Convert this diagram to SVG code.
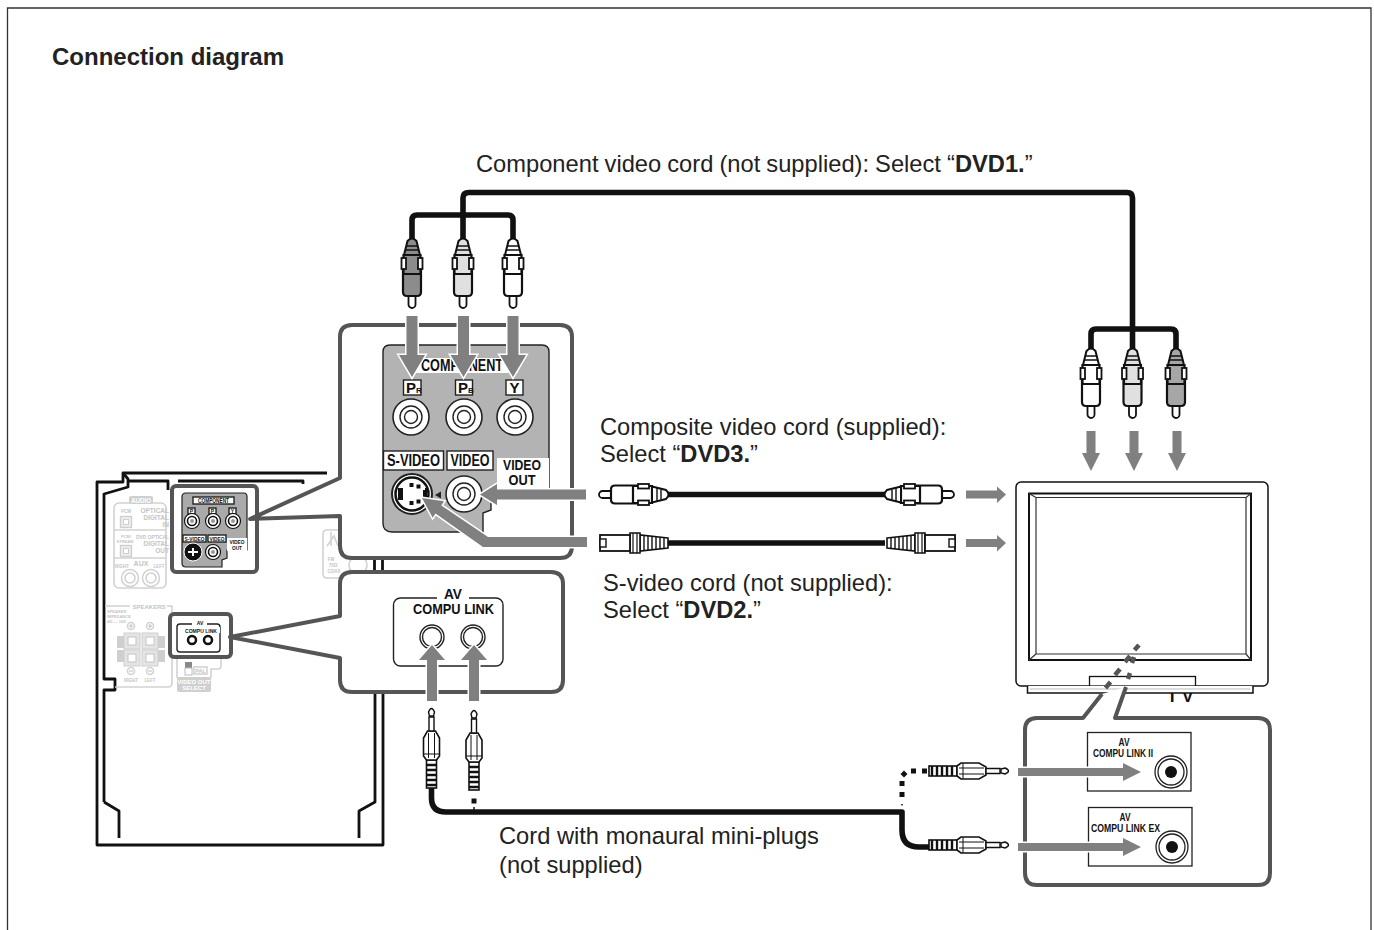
<svg xmlns="http://www.w3.org/2000/svg" xmlns:xlink="http://www.w3.org/1999/xlink" width="1374" height="930" viewBox="0 0 1374 930">
<style>
text{font-family:"Liberation Sans",Arial,sans-serif;fill:#222}
.lbl{font-size:23.7px}
.b{font-weight:bold}
.nar{font-family:"Liberation Sans Narrow","Liberation Sans",Arial,sans-serif;font-weight:bold;fill:#111}
.ftx{font-weight:bold;fill:#c4c4c4}
.ln{fill:none;stroke:#111;stroke-width:2.8;stroke-linejoin:round}
.call{fill:#fff;stroke:#555;stroke-width:4;stroke-linejoin:round}
.cord{fill:none;stroke:#111;stroke-width:5.600;stroke-linejoin:round}
.arrow{fill:#808080;stroke:#fff;stroke-width:3;paint-order:stroke;stroke-linejoin:miter}
.tag{fill:#fff;stroke:#222;stroke-width:1.4}
.thin{fill:#fff;stroke:#222;stroke-width:1.4}
.f{fill:none;stroke:#d2d2d2;stroke-width:1.6}
.fg{fill:#cfcfcf;stroke:none}
.pen{fill:#fff;stroke:#111;stroke-width:1.4}
.dash{stroke:#555;stroke-width:4.5;fill:none}
</style>
<defs>
<g id="rca">
<rect x="-3.500" y="54" width="7" height="16" rx="3.500" fill="#fff" stroke="#111" stroke-width="1.8"/>
<path d="M-9 33V54Q-9 58-5 58H5Q9 58 9 54V33Z" stroke="#111" stroke-width="2.200"/>
<path d="M-8.500 17H8.500V36H-8.500Z" stroke="#111" stroke-width="2.200"/>
<rect x="-10.500" y="20" width="4.500" height="11" fill="#fff" stroke="#111" stroke-width="1.800"/>
<rect x="6" y="20" width="4.500" height="11" fill="#fff" stroke="#111" stroke-width="1.800"/>
<path d="M-8 17L-4.500 3Q0-2 4.500 3L8 17Z" stroke="#111" stroke-width="2"/>
<path d="M-5 8H5M-6.500 12H6.500" stroke="#111" stroke-width="1.400"/>
</g>
<g id="svp">
<path d="M0-5L-28-8V8L0 5Z" fill="#fff" stroke="#111" stroke-width="1.6"/>
<path d="M-4-5V5M-8-6V6M-12-6V6M-16-7V7M-20-7V7M-24-7V7" stroke="#111" stroke-width="1.4"/>
<path d="M-28-10H-38V10H-28Z" fill="#fff" stroke="#111" stroke-width="1.6"/>
<path d="M-31-10V10M-35-10V10" stroke="#111" stroke-width="1.200"/>
<rect x="-68" y="-8" width="30" height="16" fill="#fff" stroke="#111" stroke-width="1.8"/>
<rect x="-68" y="-4" width="6" height="8" fill="#fff" stroke="#111" stroke-width="1.4"/>
</g>
<g id="mini">
<rect x="-5" y="-28" width="10" height="28" fill="#fff" stroke="#111" stroke-width="1.6"/>
<path d="M-5-23H5M-5-18H5M-5-13H5M-5-8H5M-5-3H5" stroke="#111" stroke-width="2.4"/>
<path d="M-5-28L-8-32V-50L-4-57H4L8-50V-32L5-28Z" fill="#fff" stroke="#111" stroke-width="1.6"/>
<path d="M-3-30V-55M3-30V-55M-8-34H8" stroke="#111" stroke-width="1"/>
<path d="M-2.500-57V-71H2.500V-57Z" fill="#fff" stroke="#111" stroke-width="1.4"/>
<path d="M-2-72L-3-76Q0-83 3-76L2-72Z" fill="#fff" stroke="#111" stroke-width="1.4"/>
</g>
<g id="jack">
<circle r="18" fill="#fff" stroke="#222" stroke-width="1.6"/>
<circle r="11" fill="#fff" stroke="#222" stroke-width="1.4"/>
<circle r="6.500" fill="#fff" stroke="#222" stroke-width="1.4"/>
</g>
<g id="tinyjack">
<circle r="7.500" fill="#fff" stroke="#111" stroke-width="1.2"/>
<circle r="4.500" fill="#fff" stroke="#111" stroke-width="1.6"/>
<circle r="2" fill="#999"/>
</g>
<g id="fjack">
<circle r="8.500" fill="none" stroke="#d0d0d0" stroke-width="1.5"/>
<circle r="5" fill="none" stroke="#d0d0d0" stroke-width="1.5"/>
</g>
<g id="fsock">
<rect x="-5.500" y="-5.500" width="11" height="11" fill="#eee" stroke="#cfcfcf" stroke-width="1.4"/>
<rect x="-2.500" y="-2.500" width="5" height="5" fill="#fff" stroke="#cfcfcf"/>
</g>
<g id="fterm">
<rect x="-8" y="-8" width="16" height="16" fill="#e4e4e4" stroke="#cfcfcf"/>
<rect x="-4" y="-4" width="8" height="8" fill="#fff" stroke="#c4c4c4"/>
</g>
</defs>
<rect width="1374" height="930" fill="#fff"/>
<path id="frame" d="M7.500 930V8H1371V930" fill="none" stroke="#333" stroke-width="1.3"/>
<text id="title" class="b" x="52" y="65" font-size="24">Connection diagram</text>

<g id="device">
<path class="ln" d="M327 473H123V482H97V845H383V692"/>
<path class="ln" d="M104 802V690H115V679H104V494L128 487V479L123 473"/>
<path class="ln" d="M128 481H168V490M178 481H303V484"/>
<path class="ln" d="M104 802L119 811V838M375 692V802L359 811V838"/>
<path class="ln" d="M374.500 556V574M382.500 556V574"/>
<g id="faint-audio">
<rect class="f" x="114" y="503" width="52" height="85" rx="5"/>
<path class="f" d="M114 530H166M114 558H166"/>
<rect class="fg" x="129" y="496" width="24" height="8" rx="2"/>
<text class="ftx" x="141" y="503" font-size="7" text-anchor="middle" style="fill:#fff" textLength="20" lengthAdjust="spacingAndGlyphs">AUDIO</text>
<text class="ftx" x="126" y="513" font-size="4.500" text-anchor="middle">PCM</text>
<text class="ftx" x="169" y="513" font-size="6.500" text-anchor="end">OPTICAL</text>
<text class="ftx" x="169" y="520" font-size="6.500" text-anchor="end">DIGITAL</text>
<text class="ftx" x="169" y="527" font-size="6.500" text-anchor="end">IN</text>
<use xlink:href="#fsock" href="#fsock" x="126" y="522"/>
<text class="ftx" x="126" y="538" font-size="4" text-anchor="middle">PCM/</text>
<text class="ftx" x="125" y="543" font-size="4" text-anchor="middle">STREAM</text>
<text class="ftx" x="136" y="539" font-size="6" textLength="33" lengthAdjust="spacingAndGlyphs">DVD OPTICAL</text>
<text class="ftx" x="169" y="546" font-size="6.500" text-anchor="end">DIGITAL</text>
<text class="ftx" x="169" y="553" font-size="6.500" text-anchor="end">OUT</text>
<use xlink:href="#fsock" href="#fsock" x="126" y="551"/>
<text class="ftx" x="122" y="568" font-size="4.500" text-anchor="middle">RIGHT</text>
<text class="ftx" x="141" y="566" font-size="7" text-anchor="middle">AUX</text>
<text class="ftx" x="159" y="568" font-size="4.500" text-anchor="middle">LEFT</text>
<use xlink:href="#fjack" href="#fjack" x="130" y="578"/>
<use xlink:href="#fjack" href="#fjack" x="151" y="578"/>
</g>
<g id="faint-speakers">
<path class="f" d="M105 606H130M167 606H172V613M172 656V683Q172 687 168 687H115"/>
<text class="ftx" x="149" y="609" font-size="6" text-anchor="middle">SPEAKERS</text>
<text class="ftx" x="107" y="613" font-size="4">SPEAKER</text>
<text class="ftx" x="107" y="618" font-size="4">IMPEDANCE</text>
<text class="ftx" x="107" y="623" font-size="4">4Ω — 16Ω</text>
<circle class="f" cx="131" cy="626" r="3.500"/><circle class="f" cx="150" cy="626" r="3.500"/>
<path class="f" d="M129 626H133M131 624V628M148 626H152M150 624V628M129 671H133M148 671H152"/>
<circle class="f" cx="131" cy="671" r="3.500"/><circle class="f" cx="150" cy="671" r="3.500"/>
<rect class="fg" x="117" y="636" width="7" height="12"/><rect class="fg" x="158" y="636" width="7" height="12"/>
<rect class="fg" x="117" y="650" width="7" height="12"/><rect class="fg" x="158" y="650" width="7" height="12"/>
<use xlink:href="#fterm" href="#fterm" x="132" y="641"/><use xlink:href="#fterm" href="#fterm" x="150" y="641"/>
<use xlink:href="#fterm" href="#fterm" x="132" y="658"/><use xlink:href="#fterm" href="#fterm" x="150" y="658"/>
<text class="ftx" x="131" y="682" font-size="4.500" text-anchor="middle">RIGHT</text>
<text class="ftx" x="150" y="682" font-size="4.500" text-anchor="middle">LEFT</text>
</g>
<g id="faint-select">
<path class="f" d="M177 658V678M221 658V666Q221 669 218 669H211V678"/>
<rect x="185" y="662" width="7" height="7" fill="#888"/><rect x="185" y="668" width="7" height="7" fill="#fff" stroke="#bbb"/>
<rect class="f" x="194" y="667" width="13" height="7"/>
<text class="ftx" x="200.500" y="673" font-size="5.500" text-anchor="middle">PAL</text>
<rect class="fg" x="177" y="677" width="34" height="15" rx="2"/>
<text class="ftx" x="194" y="684" font-size="6" text-anchor="middle" style="fill:#fff">VIDEO OUT</text>
<text class="ftx" x="194" y="690" font-size="6" text-anchor="middle" style="fill:#fff">SELECT</text>
</g>
<g id="faint-fm">
<path class="f" d="M340 530H327Q323 530 323 534V574Q323 578 327 578H340"/>
<path class="f" d="M331 532V546M327 546L334 536L338 546"/>
<circle class="f" cx="358" cy="565" r="9"/>
<text class="ftx" x="331" y="561" font-size="4.500" text-anchor="middle">FM</text>
<text class="ftx" x="333" y="567" font-size="4.500" text-anchor="middle">75Ω</text>
<text class="ftx" x="334" y="573" font-size="4.500" text-anchor="middle">COAX</text>
</g>
</g>

<g id="mini-component">
<rect x="172" y="486" width="85" height="86" rx="4" fill="#fff" stroke="#555" stroke-width="4"/>
<path d="M182 497Q182 493 186 493H244Q247 493 247 497V550H227V558L222 560V567H186Q182 567 182 563Z" fill="#aaa" stroke="#222" stroke-width="1.200"/>
<rect x="227" y="538" width="20" height="13" fill="#fff"/>
<rect class="tag" x="193" y="497" width="41" height="7"/>
<text class="nar" x="213.500" y="503" font-size="6.500" text-anchor="middle" textLength="31" lengthAdjust="spacingAndGlyphs">COMPONENT</text>
<rect class="tag" x="188" y="508" width="7" height="6"/><rect class="tag" x="209" y="508" width="7" height="6"/><rect class="tag" x="229" y="508" width="7" height="6"/>
<text class="nar" x="191.500" y="513" font-size="5" text-anchor="middle">P</text><text class="nar" x="212.500" y="513" font-size="5" text-anchor="middle">P</text><text class="nar" x="232.500" y="513" font-size="5" text-anchor="middle">Y</text>
<use xlink:href="#tinyjack" href="#tinyjack" x="192" y="521"/><use xlink:href="#tinyjack" href="#tinyjack" x="213" y="521"/><use xlink:href="#tinyjack" href="#tinyjack" x="233" y="521"/>
<rect class="tag" x="183" y="535" width="23" height="7"/><rect class="tag" x="208" y="535" width="18" height="7"/>
<text class="nar" x="194.500" y="541" font-size="6" text-anchor="middle" textLength="20" lengthAdjust="spacingAndGlyphs">S-VIDEO</text>
<text class="nar" x="217" y="541" font-size="6" text-anchor="middle" textLength="15" lengthAdjust="spacingAndGlyphs">VIDEO</text>
<text class="nar" x="237" y="544" font-size="6" text-anchor="middle" textLength="15" lengthAdjust="spacingAndGlyphs">VIDEO</text>
<text class="nar" x="237" y="550" font-size="6" text-anchor="middle" textLength="10" lengthAdjust="spacingAndGlyphs">OUT</text>
<circle cx="193" cy="552" r="9" fill="#111" stroke="#fff" stroke-width="1"/>
<path d="M188 552H198M193 548V556" stroke="#fff" stroke-width="2"/>
<use xlink:href="#tinyjack" href="#tinyjack" x="213" y="552"/>
</g>
<g id="mini-compulink">
<rect x="170" y="614" width="61" height="43" rx="4" fill="#fff" stroke="#555" stroke-width="4"/>
<rect class="thin" x="177" y="624" width="43" height="28" rx="3"/>
<rect x="192" y="620" width="15" height="6" fill="#fff"/>
<text class="nar" x="200" y="625" font-size="5" text-anchor="middle">AV</text>
<rect x="183" y="627" width="37" height="6" fill="#fff"/>
<text class="nar" x="201" y="632.500" font-size="6" text-anchor="middle" textLength="32" lengthAdjust="spacingAndGlyphs">COMPU LINK</text>
<circle cx="192" cy="640" r="4" fill="#fff" stroke="#111" stroke-width="2.500"/>
<circle cx="208" cy="640" r="4" fill="#fff" stroke="#111" stroke-width="2.500"/>
</g>

<g id="panel-component">
<path class="call" d="M250 519L340 478V337Q340 325 352 325H560Q572 325 572 337V546Q572 558 560 558H352Q340 558 340 546V516Z"/>
<path d="M383 352Q383 345 390 345H542Q549 345 549 352V488H491V510L483 513V532H392Q383 532 383 523Z" fill="#b3b3b3" stroke="#222" stroke-width="1.400"/>
<rect x="497" y="458" width="52" height="30" fill="#fff"/>
<path d="M418 358H514L518 373H410Z" fill="#fff"/>
<text class="nar" x="462" y="371" font-size="17" text-anchor="middle" textLength="82" lengthAdjust="spacingAndGlyphs">COMPONENT</text>
<rect class="tag" x="403.500" y="380" width="17.500" height="15"/>
<rect class="tag" x="455.500" y="380" width="17" height="15"/>
<rect class="tag" x="506" y="380" width="17" height="15"/>
<text class="nar" x="406" y="393" font-size="15">P<tspan font-size="8">R</tspan></text>
<text class="nar" x="458" y="393" font-size="15">P<tspan font-size="8">B</tspan></text>
<text class="nar" x="514.500" y="393" font-size="15" text-anchor="middle">Y</text>
<use xlink:href="#jack" href="#jack" x="411" y="417"/>
<use xlink:href="#jack" href="#jack" x="464" y="417"/>
<use xlink:href="#jack" href="#jack" x="515" y="417"/>
<rect class="tag" x="383.500" y="451" width="60" height="19"/>
<rect class="tag" x="447" y="451" width="46" height="19"/>
<text class="nar" x="413.500" y="466" font-size="16" text-anchor="middle" textLength="53" lengthAdjust="spacingAndGlyphs">S-VIDEO</text>
<text class="nar" x="470" y="466" font-size="16" text-anchor="middle" textLength="39" lengthAdjust="spacingAndGlyphs">VIDEO</text>
<text class="nar" x="522" y="470" font-size="15" text-anchor="middle" textLength="38" lengthAdjust="spacingAndGlyphs">VIDEO</text>
<text class="nar" x="522" y="485" font-size="15" text-anchor="middle" textLength="27" lengthAdjust="spacingAndGlyphs">OUT</text>
<circle cx="412" cy="494" r="20" fill="#fff" stroke="#222" stroke-width="2"/>
<circle cx="412" cy="494" r="16.500" fill="#fff" stroke="#111" stroke-width="2.500"/>
<path d="M398 488H403V500H398ZM409.500 483H413.500V487H409.500ZM416.500 484.500H420.500V488.500H416.500ZM409.500 501H413.500V505H409.500ZM416.500 499.500H420.500V503.500H416.500ZM425 488V490H423V498H425V500H427V488Z" fill="#111"/>
<path d="M435 495L441 491.500V498.500Z" fill="#222"/>
<use xlink:href="#jack" href="#jack" x="464" y="494"/>
</g>

<g id="panel-compulink">
<path class="call" d="M230 637L340 616V584Q340 572 352 572H551Q563 572 563 584V680Q563 692 551 692H352Q340 692 340 680V658Z"/>
<rect class="thin" x="393.500" y="598" width="109.500" height="68" rx="7"/>
<rect x="437" y="590" width="32" height="10" fill="#fff"/>
<text class="nar" x="453" y="599" font-size="15" text-anchor="middle" textLength="18" lengthAdjust="spacingAndGlyphs">AV</text>
<rect x="410" y="600" width="90" height="14" fill="#fff"/>
<text class="nar" x="453.500" y="613.500" font-size="15" text-anchor="middle" textLength="81" lengthAdjust="spacingAndGlyphs">COMPU LINK</text>
<circle cx="432" cy="637" r="12" fill="#fff" stroke="#222" stroke-width="1.400"/><circle cx="432" cy="637" r="9.500" fill="#fff" stroke="#222" stroke-width="1.400"/>
<circle cx="473" cy="637" r="12" fill="#fff" stroke="#222" stroke-width="1.400"/><circle cx="473" cy="637" r="9.500" fill="#fff" stroke="#222" stroke-width="1.400"/>
</g>

<g id="tv">
<text class="b" x="1167" y="702" font-size="17" style="fill:#111">T V</text>
<rect x="1016" y="482" width="252" height="204" rx="5" fill="#fff" stroke="#111" stroke-width="1.500"/>
<rect x="1029" y="493.500" width="222" height="166.500" fill="#fff" stroke="#111" stroke-width="2"/>
<path d="M1036 497.500H1246V654H1036ZM1029 493.500L1036 497.500M1251 493.500L1246 497.500M1029 660L1036 654M1251 660L1246 654" fill="#fff" stroke="#333" stroke-width="1.200"/>
<rect x="1089.500" y="676.500" width="106" height="9.500" fill="#fff" stroke="#111" stroke-width="1.300"/>
<path d="M1027.500 686V693H1253V686" fill="#fff" stroke="#111" stroke-width="1.500"/>
<path d="M1030 689H1250" stroke="#bbb" stroke-width="1"/>
</g>

<g id="panel-tv">
<path class="call" d="M1102 694L1083 718H1037Q1025 718 1025 730V873Q1025 885 1037 885H1258Q1270 885 1270 873V730Q1270 718 1258 718H1115L1126 687"/>
<path class="dash" d="M1105.500 688L1110.500 682M1115 675L1120 669M1125 662L1130 656M1134.500 650L1139 645M1128 679L1130 673M1132 663L1134 657"/>
<rect x="1087.500" y="732.500" width="103.500" height="58.500" fill="#fff" stroke="#222" stroke-width="1.300"/>
<text class="nar" x="1124" y="746" font-size="10" text-anchor="middle" textLength="11" lengthAdjust="spacingAndGlyphs">AV</text>
<text class="nar" x="1123" y="757" font-size="10" text-anchor="middle" textLength="60" lengthAdjust="spacingAndGlyphs">COMPU LINK II</text>
<circle cx="1171" cy="772" r="16" fill="#fff" stroke="#222" stroke-width="1.300"/><circle cx="1171" cy="772" r="13" fill="#fff" stroke="#222" stroke-width="1.300"/><circle cx="1171" cy="772" r="6" fill="#111"/>
<rect x="1088.500" y="807.500" width="103.500" height="58.500" fill="#fff" stroke="#222" stroke-width="1.300"/>
<text class="nar" x="1125" y="821" font-size="10" text-anchor="middle" textLength="11" lengthAdjust="spacingAndGlyphs">AV</text>
<text class="nar" x="1125.500" y="832" font-size="10" text-anchor="middle" textLength="69" lengthAdjust="spacingAndGlyphs">COMPU LINK EX</text>
<circle cx="1172" cy="847" r="16" fill="#fff" stroke="#222" stroke-width="1.300"/><circle cx="1172" cy="847" r="13" fill="#fff" stroke="#222" stroke-width="1.300"/><circle cx="1172" cy="847" r="6" fill="#111"/>
</g>

<g id="connectors">
<path class="cord" d="M463 240V198Q463 192.500 469 192.500H1127Q1132.500 192.500 1132.500 198V350"/>
<path class="cord" d="M412 240V220Q412 215 417 215H508Q513 215 513 220V240"/>
<path class="cord" d="M1091 350V334Q1091 329 1096 329H1171Q1176 329 1176 334V350"/>
<path class="cord" d="M668 494.500H885M668 543H885"/>
<path class="cord" d="M431.500 786V798Q431.500 812 446 812H902V830Q902 847 919 847H930"/>
<path d="M474 801V801" stroke="#111" stroke-width="5" stroke-linecap="square"/>
<path d="M474 807V810" stroke="#111" stroke-width="1.500"/>
<path d="M902 804V805.500" stroke="#111" stroke-width="1.500"/>
<path d="M899.500 781H904.500V786H899.500ZM899.500 792H904.500V797H899.500ZM904 770.500L907.500 774L904 777.500L900.500 774ZM911 768.500H916V773.500H911ZM922 768.500H927V773.500H922Z" fill="#111"/>
<g fill="#8c8c8c"><use xlink:href="#rca" href="#rca" x="412" y="238"/></g>
<g fill="#e0e0e0"><use xlink:href="#rca" href="#rca" x="463" y="238"/></g>
<g fill="#fff"><use xlink:href="#rca" href="#rca" x="513" y="238"/></g>
<g fill="#fff"><use xlink:href="#rca" href="#rca" x="1091" y="348"/></g>
<g fill="#e0e0e0"><use xlink:href="#rca" href="#rca" x="1132.500" y="348"/></g>
<g fill="#a6a6a6"><use xlink:href="#rca" href="#rca" x="1176" y="348"/></g>
<g fill="#fff" transform="translate(669 494.500) rotate(90)"><use xlink:href="#rca" href="#rca"/></g>
<g fill="#fff" transform="translate(884 494.500) rotate(-90)"><use xlink:href="#rca" href="#rca"/></g>
<use xlink:href="#svp" href="#svp" transform="translate(668 543)"/>
<use xlink:href="#svp" href="#svp" transform="translate(887 543) scale(-1 1)"/>
<use xlink:href="#mini" href="#mini" transform="translate(431.500 788)"/>
<use xlink:href="#mini" href="#mini" transform="translate(474 790)"/>
<use xlink:href="#mini" href="#mini" transform="translate(929 771) rotate(90)"/>
<use xlink:href="#mini" href="#mini" transform="translate(929 845) rotate(90)"/>
</g>

<g id="arrows">
<path class="arrow" d="M406.500 316H417.500V355H425L412 377L399 355H406.500Z"/>
<path class="arrow" d="M458 316H469V355H476.500L463.500 377L450.500 355H458Z"/>
<path class="arrow" d="M507.500 316H518.500V355H526L513 377L500 355H507.500Z"/>
<path class="arrow" d="M586 489.500V499.500H497V505L480 494.500L497 484V489.500Z"/>
<path class="arrow" d="M587 537H488L441.300 505.400L444 501.300L422 498L432.700 517.700L435.500 513.600L483 547H587Z"/>
<path class="arrow" d="M427 701V660H419L432 645L445 660H437V701Z"/>
<path class="arrow" d="M469 701V660H461L474 645L487 660H479V701Z"/>
<path class="arrow" d="M1086.500 431H1095.500V453H1100L1091 471L1082 453H1086.500Z" style="stroke:none"/>
<path class="arrow" d="M1129.500 431H1138.500V453H1143L1134 471L1125 453H1129.500Z" style="stroke:none"/>
<path class="arrow" d="M1172.500 431H1181.500V453H1186L1177 471L1168 453H1172.500Z" style="stroke:none"/>
<path class="arrow" d="M966 490.500H997V486.500L1006 494.500L997 503V498.500H966Z" style="stroke:none"/>
<path class="arrow" d="M966 539H997V535L1006 543L997 551.500V547H966Z" style="stroke:none"/>
<path class="arrow" d="M1018 768H1123V763L1141 772L1123 781V776H1018Z"/>
<path class="arrow" d="M1018 843H1123V838L1141 847L1123 856V851H1018Z"/>
</g>

<g id="labels">
<text class="lbl" x="476" y="172" word-spacing="-0.5">Component video cord (not supplied): Select “<tspan class="b">DVD1.</tspan>”</text>
<text class="lbl" x="600" y="435">Composite video cord (supplied):</text>
<text class="lbl" x="600" y="462">Select “<tspan class="b">DVD3.</tspan>”</text>
<text class="lbl" x="603" y="591">S-video cord (not supplied):</text>
<text class="lbl" x="603" y="618">Select “<tspan class="b">DVD2.</tspan>”</text>
<text class="lbl" x="499" y="844">Cord with monaural mini-plugs</text>
<text class="lbl" x="499" y="873">(not supplied)</text>
</g>
</svg>
